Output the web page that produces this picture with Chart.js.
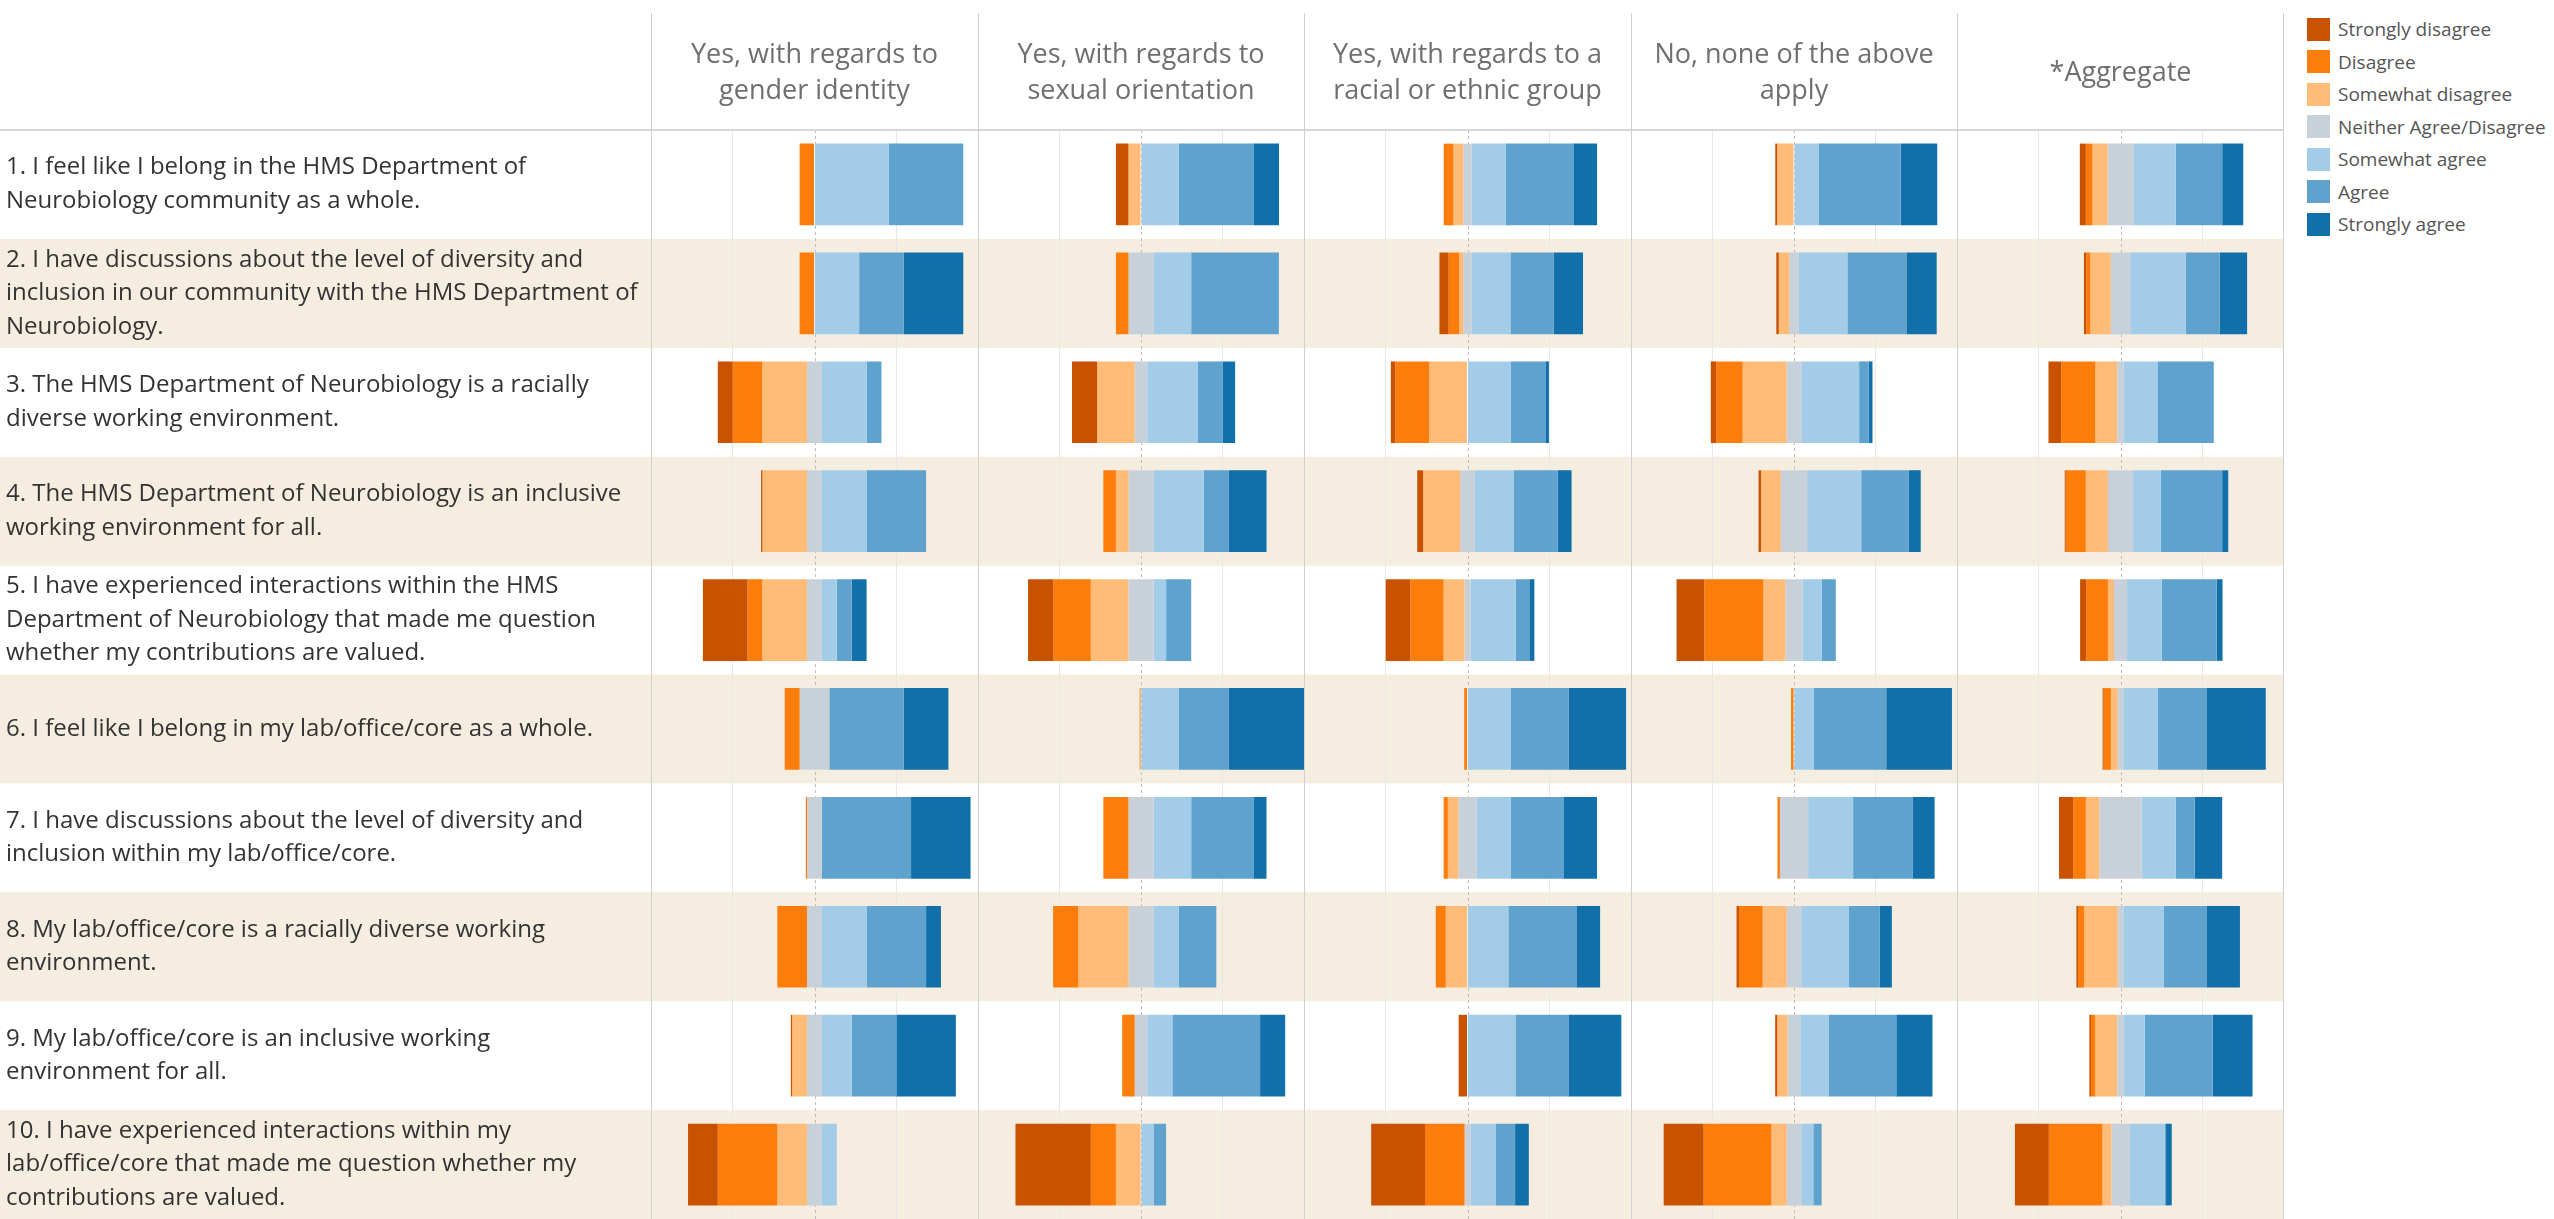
<!DOCTYPE html>
<html>
<head>
<meta charset="utf-8">
<script src="https://cdn.jsdelivr.net/npm/chart.js@4.4.0/dist/chart.umd.min.js"></script>
<style>
  body { margin: 0; background: #fff; width: 2554px; height: 1219px; overflow: hidden; position: relative; }
  .painel { position: absolute; top: 0; height: 1219px; }
  #legenda { position: absolute; left: 2307px; top: 13px; font-family: 'Open Sans', sans-serif; font-size: 19px; color: #555; }
  #legenda .item { height: 32.5px; display: flex; align-items: center; white-space: nowrap; }
  #legenda .cor { width: 23px; height: 23px; margin-right: 8px; display: inline-block; }
</style>
</head>
<body>
<div class="painel" style="left:0;width:978px"><canvas id="g0"></canvas></div>
<div class="painel" style="left:978px;width:326px"><canvas id="g1"></canvas></div>
<div class="painel" style="left:1304px;width:327px"><canvas id="g2"></canvas></div>
<div class="painel" style="left:1631px;width:326px"><canvas id="g3"></canvas></div>
<div class="painel" style="left:1957px;width:327px"><canvas id="g4"></canvas></div>
<div id="legenda"></div>

<script>
const FONTE = "'Open Sans', 'Noto Sans', sans-serif";

// perguntas (uma linha por item do array)
const questions = [
    ['1. I feel like I belong in the HMS Department of', 'Neurobiology community as a whole.'],
    ['2. I have discussions about the level of diversity and', 'inclusion in our community with the HMS Department of', 'Neurobiology.'],
    ['3. The HMS Department of Neurobiology is a racially', 'diverse working environment.'],
    ['4. The HMS Department of Neurobiology is an inclusive', 'working environment for all.'],
    ['5. I have experienced interactions within the HMS', 'Department of Neurobiology that made me question', 'whether my contributions are valued.'],
    ['6. I feel like I belong in my lab/office/core as a whole.'],
    ['7. I have discussions about the level of diversity and', 'inclusion within my lab/office/core.'],
    ['8. My lab/office/core is a racially diverse working', 'environment.'],
    ['9. My lab/office/core is an inclusive working', 'environment for all.'],
    ['10. I have experienced interactions within my', 'lab/office/core that made me question whether my', 'contributions are valued.']
];

const panelTitles = [
    ['Yes, with regards to', 'gender identity'],
    ['Yes, with regards to', 'sexual orientation'],
    ['Yes, with regards to a', 'racial or ethnic group'],
    ['No, none of the above', 'apply'],
    '*Aggregate'
];

const levels = ['Strongly disagree', 'Disagree', 'Somewhat disagree', 'Neither Agree/Disagree', 'Somewhat agree', 'Agree', 'Strongly agree'];
const levelColors = ['#c85200', '#fc7d0b', '#ffbc79', '#c8d0d9', '#a3cce9', '#5fa2ce', '#1170aa'];

// % de respostas por pergunta: SD, D, SWD, N, SWA, A, SA
const genderIdentity = [
    [0, 9.1, 0, 0, 45.5, 45.5, 0],
    [0, 9.1, 0, 0, 27.3, 27.3, 36.4],
    [9.1, 18.2, 27.3, 9.1, 27.3, 9.1, 0],
    [0.8, 0, 27.3, 9.1, 27.3, 36.4, 0],
    [27.3, 9.1, 27.3, 9.1, 9.1, 9.1, 9.1],
    [0, 9.1, 0, 18.2, 0, 45.5, 27.3],
    [0, 0.8, 0, 9.1, 0, 54.5, 36.4],
    [0, 18.2, 0, 9.1, 27.3, 36.4, 9.1],
    [0.8, 0, 9.1, 9.1, 18.2, 27.3, 36.4],
    [18.2, 36.4, 18.2, 9.1, 9.1, 0, 0]
];
const sexualOrientation = [
    [7.7, 0, 7.7, 0, 23.1, 46.2, 15.4],
    [0, 7.7, 0, 15.4, 23.1, 53.8, 0],
    [15.4, 0, 23.1, 7.7, 30.8, 15.4, 7.7],
    [0, 7.7, 7.7, 15.4, 30.8, 15.4, 23.1],
    [15.4, 23.1, 23.1, 15.4, 7.7, 15.4, 0],
    [0, 0.8, 0, 0, 23.1, 30.8, 46.2],
    [0, 15.4, 0, 15.4, 23.1, 38.5, 7.7],
    [0, 15.4, 30.8, 15.4, 15.4, 23.1, 0],
    [0, 7.7, 0, 7.7, 15.4, 53.8, 15.4],
    [46.2, 15.4, 15.4, 0, 7.7, 7.7, 0]
];
const racialEthnic = [
    [0, 5.9, 6.1, 5.1, 20.9, 41.3, 14.5],
    [5.6, 6.4, 2.6, 5.1, 23.7, 26.5, 17.9],
    [2.8, 20.7, 23.4, 0, 26.3, 21.7, 1.8],
    [3.6, 0, 22.7, 8.9, 24, 26.8, 8.4],
    [15, 20.4, 12.8, 3.6, 27.6, 8.4, 3.1],
    [0, 2, 0, 0, 26.3, 35.5, 35.2],
    [0, 2.6, 6.4, 11.2, 20.7, 32.7, 20.2],
    [0, 6.1, 13.3, 0, 25, 41.6, 14.5],
    [5.4, 0, 0, 0, 29.3, 32.4, 32.4],
    [32.9, 24.2, 0, 3.6, 15.3, 12, 8.4]
];
const noneApply = [
    [1.2, 0, 10.3, 0, 15, 50.5, 22.4],
    [1.5, 0, 6.4, 5.9, 29.8, 36.2, 18.6],
    [3.3, 16.3, 27, 8.9, 35.5, 5.9, 2.3],
    [1.5, 0, 12.2, 16.1, 33.2, 29.1, 7.4],
    [17.1, 36.2, 13.5, 10.5, 11.7, 8.7, 0],
    [0, 1.8, 0, 0, 12, 44.6, 40.3],
    [0, 1.5, 0, 17.3, 27.6, 36.7, 13.3],
    [1.5, 14.5, 14.8, 8.9, 29.3, 18.9, 7.4],
    [1.3, 0, 6.4, 7.7, 17.3, 41.6, 22.2],
    [24.5, 41.6, 9.4, 8.9, 7.4, 5.1, 0]
];
const aggregate = [
    [3.7, 4.1, 9.2, 15.8, 25.8, 28.5, 12.9],
    [1.4, 2.5, 12.5, 11.9, 34, 20.7, 16.8],
    [7.8, 20.9, 13.3, 4.1, 20.5, 34.5, 0],
    [0.6, 12.3, 13.5, 15.4, 17, 37.5, 3.7],
    [3.7, 13.3, 3.7, 8, 21.1, 33.8, 3.5],
    [0.6, 4.5, 4.1, 3.5, 21.1, 29.7, 36.3],
    [8.6, 7.8, 8.2, 26, 20.7, 11.7, 16.8],
    [1, 3.7, 20.5, 3.5, 24.8, 26, 20.5],
    [1, 2.7, 13.3, 4.1, 12.7, 41.6, 24.4],
    [20.7, 32.8, 5.5, 11.1, 21.7, 0.6, 3.5]
];

const panels = [genderIdentity, sexualOrientation, racialEthnic, noneApply, aggregate];

// barras divergentes: metade do "Neither" de cada lado do zero
function montarDatasets(rows) {
    return levels.map(function (nivel, k) {
        return {
            label: nivel,
            backgroundColor: levelColors[k],
            data: rows.map(function (r) {
                var inicio = -(r[0] + r[1] + r[2] + r[3] / 2);
                for (var j = 0; j < k; j++) inicio += r[j];
                return [inicio, inicio + r[k]];
            })
        }
    })
}

// faixas bege, linha do cabeçalho, divisórias e linha do centro
const fundoLinhas = {
    id: 'fundoLinhas',
    beforeDraw(chart) {
        const { ctx, scales: { y } } = chart;
        const passo = y.getPixelForValue(1) - y.getPixelForValue(0);
        ctx.save();
        ctx.fillStyle = '#f4ede0';
        for (let i = 1; i < questions.length; i += 2) {
            ctx.fillRect(0, y.getPixelForValue(i) - passo / 2, chart.width, passo);
        }
        ctx.restore();
    },
    beforeDatasetsDraw(chart) {
        const { ctx, chartArea, scales: { x } } = chart;
        const x0 = Math.round(x.getPixelForValue(0)) + 0.5;
        ctx.save();
        ctx.strokeStyle = '#bdbdbd';
        ctx.lineWidth = 1;
        ctx.setLineDash([3, 3]);
        ctx.beginPath();
        ctx.moveTo(x0, chartArea.top);
        ctx.lineTo(x0, chartArea.bottom);
        ctx.stroke();
        ctx.restore();
    },
    afterDraw(chart, args, opts) {
        const { ctx, chartArea } = chart;
        ctx.save();
        ctx.strokeStyle = '#d6d6d6';
        ctx.lineWidth = 2;
        ctx.beginPath();
        ctx.moveTo(0, chartArea.top);
        ctx.lineTo(chart.width, chartArea.top);
        ctx.stroke();
        ctx.lineWidth = 1;
        ctx.strokeStyle = '#d0d0d0';
        ctx.beginPath();
        ctx.moveTo(chartArea.left + 0.5, 13);
        ctx.lineTo(chartArea.left + 0.5, chart.height);
        if (opts.ultimo) {
            ctx.moveTo(chartArea.right - 0.5, 13);
            ctx.lineTo(chartArea.right - 0.5, chart.height);
        }
        ctx.stroke();
        ctx.restore();
    }
};

panels.forEach(function (rows, p) {
    const primeiro = p === 0;
    new Chart(document.getElementById('g' + p), {
        type: 'bar',
        data: {
            labels: questions,
            datasets: montarDatasets(rows)
        },
        options: {
            indexAxis: 'y',
            responsive: true,
            maintainAspectRatio: false,
            animation: false,
            layout: { padding: { left: primeiro ? 6 : 0 } },
            datasets: {
                bar: { grouped: false, barPercentage: 0.75, categoryPercentage: 1, borderWidth: 0 }
            },
            scales: {
                x: {
                    position: 'top',
                    min: -100,
                    max: 100,
                    ticks: { display: false, stepSize: 50 },
                    grid: {
                        drawTicks: false,
                        color: (c) => (c.tick && Math.abs(c.tick.value) === 50) ? '#e8e8e8' : 'rgba(0,0,0,0)'
                    },
                    border: { display: false },
                    title: {
                        display: true,
                        text: panelTitles[p],
                        color: '#6f6f6f',
                        font: { family: FONTE, size: 27, lineHeight: 1.35 },
                        padding: { top: Array.isArray(panelTitles[p]) ? 37 : 55, bottom: 0 }
                    },
                    afterFit: (s) => { s.height = 130 }
                },
                y: {
                    display: primeiro,
                    grid: { display: false },
                    border: { display: false },
                    ticks: {
                        autoSkip: false,
                        crossAlign: 'far',
                        padding: 0,
                        color: '#333',
                        font: { family: FONTE, size: 24, lineHeight: 1.4 }
                    },
                    afterFit: (s) => {
                        if (primeiro) s.width = 645;
                        // sem folga extra em cima/embaixo por causa dos rótulos
                        s.paddingTop = 0;
                        s.paddingBottom = 0;
                    }
                }
            },
            plugins: {
                legend: { display: false },
                tooltip: { enabled: false },
                fundoLinhas: { ultimo: p === panels.length - 1 }
            }
        },
        plugins: [fundoLinhas]
    });
});

// legenda
var legenda = document.getElementById('legenda');
levels.forEach(function (nivel, k) {
    legenda.innerHTML += '<div class="item"><span class="cor" style="background:' + levelColors[k] + '"></span>' + nivel + '</div>';
});
</script>
</body>
</html>
